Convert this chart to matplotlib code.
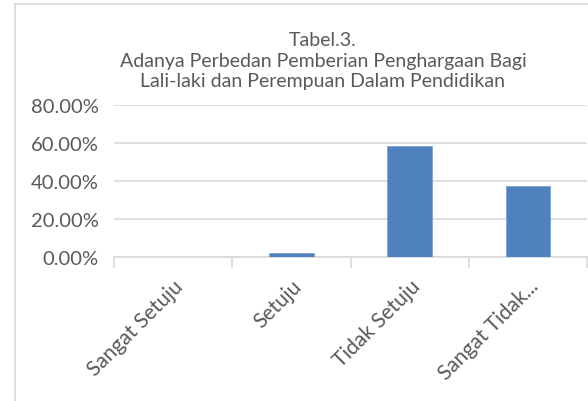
import matplotlib
matplotlib.use("Agg")
import matplotlib.pyplot as plt
from matplotlib.lines import Line2D
from matplotlib.ticker import PercentFormatter

categories = ["Sangat Setuju", "Setuju", "Tidak Setuju", "Sangat Tidak..."]
values = [0.0, 0.0208, 0.5833, 0.375]
y_ticks = [0.0, 0.2, 0.4, 0.6, 0.8]
title = ("Tabel.3.\n"
         "Adanya Perbedan Pemberian Penghargaan Bagi\n"
         "Lali-laki dan Perempuan Dalam Pendidikan")

plt.rcParams['font.family'] = ['Lato', 'DejaVu Sans']
text_color = '#595959'
grid_color = '#d9d9d9'

W, H = 588, 402
fig = plt.figure(figsize=(W / 100, H / 100), dpi=100)

# plot area in pixels: x 114..587, y(0%)=258, y(80%)=106
ax = fig.add_axes([114 / W, (H - 258.3) / H, (587 - 114) / W, (258.3 - 105.7) / H])

x = range(len(categories))
ax.bar(x, values, width=0.375, color='#4F81BD', edgecolor='#7fa3d4',
       linewidth=0.6, zorder=3)

ax.set_xlim(-0.5, len(categories) - 0.5)
ax.set_ylim(0, 0.8)
ax.set_yticks(y_ticks)
ax.yaxis.set_major_formatter(PercentFormatter(1.0, decimals=2))
ax.grid(axis='y', color=grid_color, linewidth=1.2, zorder=0)
ax.tick_params(axis='y', length=0, pad=11, labelsize=14.5, labelcolor=text_color)

# category boundaries as tick marks, labels at centres
ax.set_xticks([i - 0.5 for i in range(len(categories) + 1)])
ax.set_xticklabels([])
ax.set_xticks(list(x), minor=True)
ax.set_xticklabels(categories, minor=True, rotation=45, ha='right',
                   rotation_mode='anchor', fontsize=15, color=text_color)
ax.tick_params(axis='x', which='major', length=8, width=1.2, color=grid_color)
ax.tick_params(axis='x', which='minor', length=0, pad=13)

for side in ['top', 'right', 'left']:
    ax.spines[side].set_visible(False)
ax.spines['bottom'].set_color(grid_color)
ax.spines['bottom'].set_linewidth(1.2)

fig.text(323 / W, 1 - 61 / H, title, ha='center', va='center',
         fontsize=14, color=text_color, linespacing=1.25)

# chart frame (partially cropped)
fig.add_artist(Line2D([15 / W, 15 / W], [0, 1 - 5 / H], color=grid_color,
                      linewidth=1.2, transform=fig.transFigure))
fig.add_artist(Line2D([15 / W, 1], [1 - 5 / H, 1 - 5 / H], color=grid_color,
                      linewidth=1.2, transform=fig.transFigure))

fig.savefig("out.png", dpi=100)
